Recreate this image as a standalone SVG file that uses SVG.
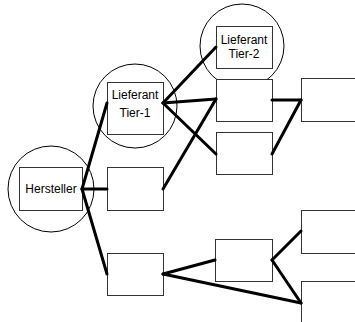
<svg xmlns="http://www.w3.org/2000/svg" width="355" height="322" viewBox="0 0 355 322">
  <style>
    .ring { fill: #fff; stroke: #000; stroke-width: 1; }
    .box { fill: #fff; stroke: #333; stroke-width: 1; }
    .link { stroke: #000; stroke-width: 3; fill: none; stroke-linecap: round; }
    .label { font-family: "Liberation Sans", Arial, sans-serif; font-size: 12px; fill: #000; text-anchor: middle; }
  </style>
  <rect width="355" height="322" fill="#fff"/>

  <!-- rings behind the key nodes -->
  <g id="rings">
    <circle class="ring" cx="51" cy="189" r="43"/>
    <circle class="ring" cx="135" cy="106" r="42"/>
    <circle class="ring" cx="242" cy="46" r="42"/>
  </g>

  <g id="hersteller">
    <rect class="box" x="19.5" y="167.5" width="63" height="43"/>
    <text class="label" x="51" y="193">Hersteller</text>
  </g>
  <g id="tier1">
    <rect class="box" x="107.5" y="82.5" width="56" height="52"/>
    <text class="label" x="135" y="99">Lieferant</text>
    <text class="label" x="135" y="117">Tier-1</text>
  </g>
  <g id="tier2">
    <rect class="box" x="216.5" y="26.5" width="56" height="42"/>
    <text class="label" x="244" y="44">Lieferant</text>
    <text class="label" x="244" y="58">Tier-2</text>
  </g>
  <g id="n-mid-a"><rect class="box" x="107.5" y="167.5" width="56" height="43"/></g>
  <g id="n-mid-b"><rect class="box" x="107.5" y="253.5" width="56" height="42"/></g>
  <g id="n-c1"><rect class="box" x="216.5" y="79.5" width="56" height="42"/></g>
  <g id="n-c2"><rect class="box" x="216.5" y="132.5" width="56" height="42"/></g>
  <g id="n-c3"><rect class="box" x="215.5" y="239.5" width="57" height="42"/></g>
  <g id="n-r1"><rect class="box" x="301.5" y="78.5" width="60" height="43"/></g>
  <g id="n-r2"><rect class="box" x="301.5" y="210.5" width="60" height="43"/></g>
  <g id="n-r3"><rect class="box" x="301.5" y="281.5" width="60" height="50"/></g>

  <g id="connectors">
    <line class="link" x1="82" y1="189" x2="107" y2="103"/>
    <line class="link" x1="82" y1="189" x2="107" y2="189"/>
    <line class="link" x1="82" y1="189" x2="107" y2="274"/>
    <line class="link" x1="163" y1="103" x2="216" y2="47"/>
    <line class="link" x1="163" y1="103" x2="216" y2="99"/>
    <line class="link" x1="163" y1="103" x2="216" y2="154"/>
    <line class="link" x1="163" y1="189" x2="216" y2="99"/>
    <line class="link" x1="272" y1="100" x2="301" y2="100"/>
    <line class="link" x1="272" y1="154" x2="301" y2="100"/>
    <line class="link" x1="163" y1="274" x2="215" y2="260"/>
    <line class="link" x1="163" y1="274" x2="301" y2="303"/>
    <line class="link" x1="272" y1="260" x2="301" y2="231"/>
    <line class="link" x1="272" y1="260" x2="301" y2="303"/>
  </g>
</svg>
